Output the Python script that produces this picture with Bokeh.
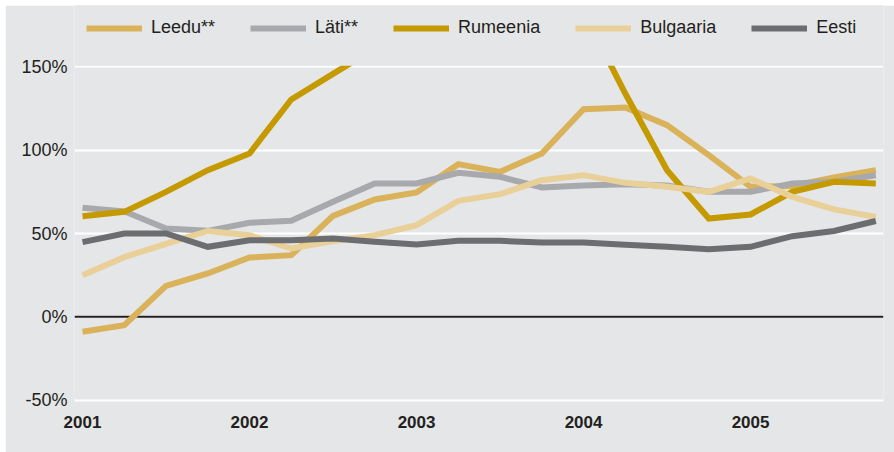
import numpy as np
from bokeh.plotting import figure
from bokeh.models import Legend, LegendItem, Span, BoxAnnotation, FixedTicker, Range1d
from bokeh.embed import file_html
from bokeh.resources import INLINE

# ---- data (quarterly, 2001Q1 .. 2005Q4) ----
start_year = 2001
n_quarters = 20
series_names = ["Leedu**", "Läti**", "Rumeenia", "Bulgaaria", "Eesti"]
leedu = [-9, -5, 18.6, 26, 35.6, 37, 60.6, 70.4, 74.6, 91.6, 87, 98, 124.6, 125.6, 115, 97, 78, 78.5, 83.6, 88]
lati = [65.5, 63.3, 53, 51.6, 56.4, 57.6, 69, 80, 80, 86.4, 84, 77.6, 78.8, 79.6, 78.8, 75, 75, 80, 81, 85]
rumeenia = [60.4, 63, 75, 88, 98, 130.4, 145.8, 161, 170, 176, 180, 183, 183, 134, 88, 59, 61.4, 75, 81, 80]
bulgaaria = [25, 35.8, 43.8, 51.5, 49, 41, 45.4, 49, 55, 69.6, 73.6, 82, 85, 80.4, 78, 75, 83, 72, 64.5, 60]
eesti = [44.8, 50, 50, 42, 46, 46, 47, 45, 43.4, 45.6, 45.6, 44.6, 44.6, 43.2, 42, 40.6, 42, 48.4, 51.5, 57.5]

x_ticks = [2001, 2002, 2003, 2004, 2005]
x_tick_labels = ["2001", "2002", "2003", "2004", "2005"]
y_ticks = [-50, 0, 50, 100, 150]
y_tick_labels = ["-50%", "0%", "50%", "100%", "150%"]

colors = ["#d9b25a", "#a7a9ac", "#c49a00", "#e9cf98", "#6c6d70"]
BG = "#e5e6e7"
TXT = "#231f20"
FONT = "Liberation Sans"

x = start_year + np.arange(n_quarters) / 4.0

p = figure(width=889, height=447, output_backend="svg", toolbar_location=None,
           x_range=Range1d(2000.952, 2005.796), y_range=Range1d(-50.8, 186.8),
           min_border_left=69, min_border_right=11, min_border_top=0, min_border_bottom=51,
           margin=(5, 0, 0, 5))
p.background_fill_color = BG
p.border_fill_color = BG
p.outline_line_color = None

# grid
p.xgrid.grid_line_color = None
p.ygrid.ticker = FixedTicker(ticks=y_ticks)
p.ygrid.grid_line_color = "white"
p.ygrid.grid_line_width = 2

zero = Span(location=0, dimension="width", line_color=TXT, line_width=2, level="underlay")
p.add_layout(zero)

renderers = []
for name, vals, col in zip(series_names, [leedu, lati, rumeenia, bulgaaria, eesti], colors):
    r = p.line(x, vals, line_color=col, line_width=6, line_join="miter")
    renderers.append(r)

# the chart is cut at its top gridline (150%)
mask = BoxAnnotation(bottom=y_ticks[-1] + 0.6, top=1000, fill_color=BG, fill_alpha=1.0,
                     line_color=None, level="annotation")
p.add_layout(mask)

# axes
p.xaxis.ticker = FixedTicker(ticks=x_ticks)
p.xaxis.major_label_overrides = {t: l for t, l in zip(x_ticks, x_tick_labels)}
p.xaxis.axis_line_color = None
p.xaxis.major_tick_line_color = None
p.xaxis.minor_tick_line_color = None
p.xaxis.major_tick_out = 0
p.xaxis.major_tick_in = 0
p.xaxis.major_label_standoff = 14
p.xaxis.major_label_text_font = FONT
p.xaxis.major_label_text_font_size = "17px"
p.xaxis.major_label_text_font_style = "bold"
p.xaxis.major_label_text_color = TXT

p.yaxis.ticker = FixedTicker(ticks=y_ticks)
p.yaxis.major_label_overrides = {t: l for t, l in zip(y_ticks, y_tick_labels)}
p.yaxis.axis_line_color = None
p.yaxis.major_tick_line_color = None
p.yaxis.minor_tick_line_color = None
p.yaxis.major_tick_out = 0
p.yaxis.major_tick_in = 0
p.yaxis.major_label_standoff = 7
p.yaxis.major_label_text_font = FONT
p.yaxis.major_label_text_font_size = "18px"
p.yaxis.major_label_text_color = TXT

legend = Legend(items=[LegendItem(label=n, renderers=[r]) for n, r in zip(series_names, renderers)],
                orientation="horizontal", location=(12, 363),
                glyph_width=56, glyph_height=20, label_height=20,
                label_standoff=9, spacing=35, padding=0, margin=0,
                border_line_color=None, background_fill_alpha=0,
                label_text_font=FONT, label_text_font_size="18px", label_text_color=TXT)
p.add_layout(legend)

open("out.html", "w").write(file_html(p, INLINE))
